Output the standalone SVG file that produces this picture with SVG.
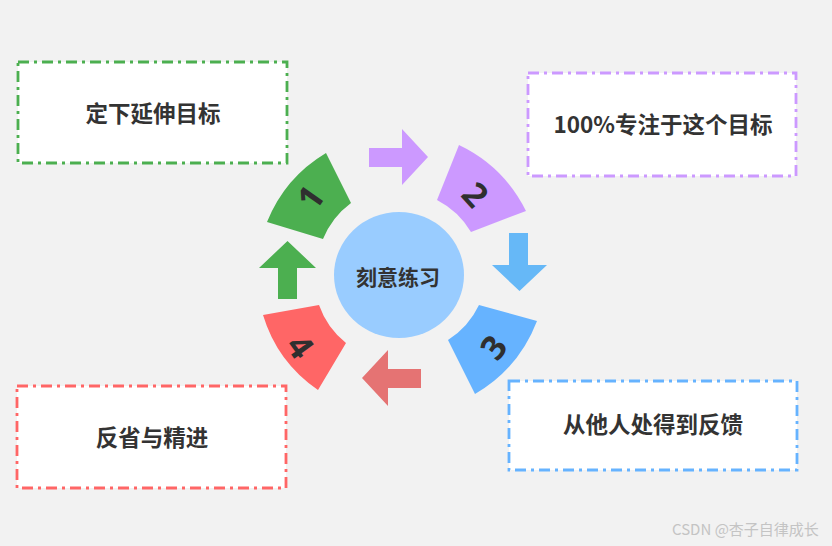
<svg xmlns="http://www.w3.org/2000/svg" width="832" height="546" viewBox="0 0 832 546">
<style>
.box{fill:#ffffff;stroke-width:2.8;stroke-dasharray:11 5 3 5;}
.lbl{font-family:"Noto Sans CJK SC","Noto Sans",sans-serif;font-weight:bold;font-size:22.5px;fill:#333333;text-anchor:middle;}
.num{font-family:"Noto Sans","Noto Sans CJK SC",sans-serif;font-weight:bold;font-size:34px;fill:#2f2f2f;text-anchor:middle;dominant-baseline:central;}
</style>
<rect x="0" y="0" width="832" height="546" fill="#f2f2f2"/>

<g id="box1"><rect class="box" x="18" y="62" width="269" height="101" stroke="#4caf50"/><text class="lbl" x="153" y="121.5">定下延伸目标</text></g>
<g id="box2"><rect class="box" x="528" y="73" width="268" height="103" stroke="#cc99ff"/><text class="lbl" x="663" y="133">100%专注于这个目标</text></g>
<g id="box3"><rect class="box" x="509" y="381" width="288" height="89" stroke="#66b3ff"/><text class="lbl" x="653" y="433">从他人处得到反馈</text></g>
<g id="box4"><rect class="box" x="17" y="386" width="269" height="102" stroke="#ff6666"/><text class="lbl" x="152" y="446">反省与精进</text></g>

<g id="center"><ellipse cx="399" cy="275" rx="65" ry="63" fill="#99ccff"/><text class="lbl" x="398" y="285" style="font-size:21px">刻意练习</text></g>

<g id="seg1"><path d="M267 222 A142 142 0 0 1 326 153 L351 203 A85 85 0 0 0 323 239 Z" fill="#4caf50"/><text class="num" transform="translate(310 197) rotate(-55)">1</text></g>
<g id="seg2"><path d="M459 145 A144 144 0 0 1 526 211 L471 232 A85 85 0 0 0 437 200 Z" fill="#cc99ff"/><text class="num" transform="translate(476 194) rotate(48)">2</text></g>
<g id="seg3"><path d="M537 321 A144 144 0 0 1 475 394 L448 340 A84 84 0 0 0 479 305 Z" fill="#66b3ff"/><text class="num" transform="translate(493 347) rotate(-53)">3</text></g>
<g id="seg4"><path d="M318 390 A140 140 0 0 1 263 315 L319 305 A84 84 0 0 0 346 343 Z" fill="#ff6666"/><text class="num" transform="translate(301 346) rotate(54)">4</text></g>

<g id="connectors">
<polygon points="369,148 402,148 402,129 428,157 402,185 402,167 369,167" fill="#cc99ff"/>
<polygon points="509,233 528,233 528,265 547,265 519.5,291 492,265 509,265" fill="#66b8f7"/>
<polygon points="421,369 388,369 388,350 362,378 388,406 388,388 421,388" fill="#e57373"/>
<polygon points="278,299 278,268 259,268 287.5,241 316,268 297,268 297,299" fill="#4caf50"/>
</g>

<text x="672" y="535" style="font-family:'Noto Sans CJK SC','Noto Sans',sans-serif;font-size:15px;fill:#c4c4c4">CSDN @杏子自律成长</text>
</svg>
